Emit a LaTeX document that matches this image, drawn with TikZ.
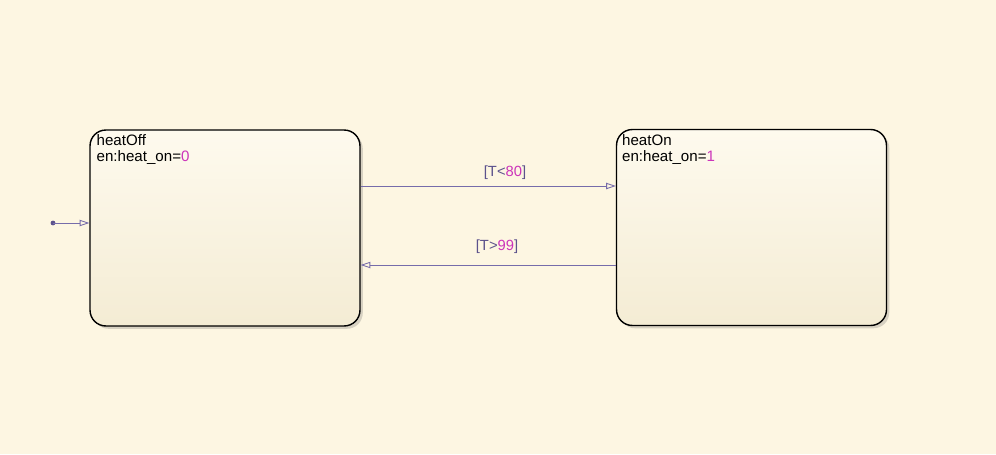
\documentclass[tikz,border=0pt]{standalone}
\usepackage{fontspec}
\setmainfont{Liberation Sans}
\usepackage{tikz}
\usepackage{xcolor}
\usetikzlibrary{positioning, arrows.meta, shadows}
\definecolor{sfbg}{RGB}{253, 246, 226}
\definecolor{sftop}{RGB}{254, 250, 238}
\definecolor{sfbot}{RGB}{244, 236, 212}
\definecolor{sfline}{RGB}{118, 108, 170}
\definecolor{sfguard}{RGB}{92, 82, 140}
\definecolor{sfnum}{RGB}{204, 52, 186}
\tikzset{
    sfstate/.style={draw=black, line width=0.8pt, rounded corners=9pt, top color=sftop, bottom color=sfbot,
        minimum width=5.4cm, minimum height=3.92cm,
        drop shadow={shadow xshift=1.6pt, shadow yshift=-1.6pt, opacity=0.25, fill=black!60}},
    sftext/.style={anchor=north west, align=left, inner sep=0pt, font=\fontsize{8.6}{9.2}\selectfont},
    sftrans/.style={draw=sfline, line width=0.5pt, -{Triangle[open, length=5.5pt, width=3.6pt]}},
    sfguardlbl/.style={font=\fontsize{8.4}{9}\selectfont, text=sfguard, inner sep=0pt}
}
\newcommand{\sfn}[1]{\textcolor{sfnum}{#1}}

\begin{document}
\begin{tikzpicture}[x=0.02cm, y=0.02cm]
    \useasboundingbox[fill=sfbg] (0,0) rectangle (996,454);
    % states
    \node[sfstate] (heatOff) at (225,226) {};
    \node[sfstate] (heatOn) at (751.5,226.5) {};
    \node[sftext] (offtxt) at ([xshift=7*0.02cm, yshift=-5*0.02cm]heatOff.north west) {heatOff\\en:heat\_on=\sfn{0}};
    \node[sftext] (ontxt) at ([xshift=6*0.02cm, yshift=-5*0.02cm]heatOn.north west) {heatOn\\en:heat\_on=\sfn{1}};
    % transitions
    \coordinate (up) at (0,268);
    \coordinate (dn) at (0,189);
    \draw[sftrans] (up -| heatOff.east) -- (up -| heatOn.west);
    \draw[sftrans] (dn -| heatOn.west) -- (dn -| heatOff.east);
    \node[sfguardlbl] (g1) at (505,281) {[T<\sfn{80}]};
    \node[sfguardlbl] (g2) at (497,207) {[T>\sfn{99}]};
    % default transition
    \coordinate (def) at (0,231);
    \fill[sfguard] (53,231) circle (2.4) coordinate (dot);
    \draw[sftrans] (dot) -- (def -| heatOff.west);
\end{tikzpicture}
\end{document}
